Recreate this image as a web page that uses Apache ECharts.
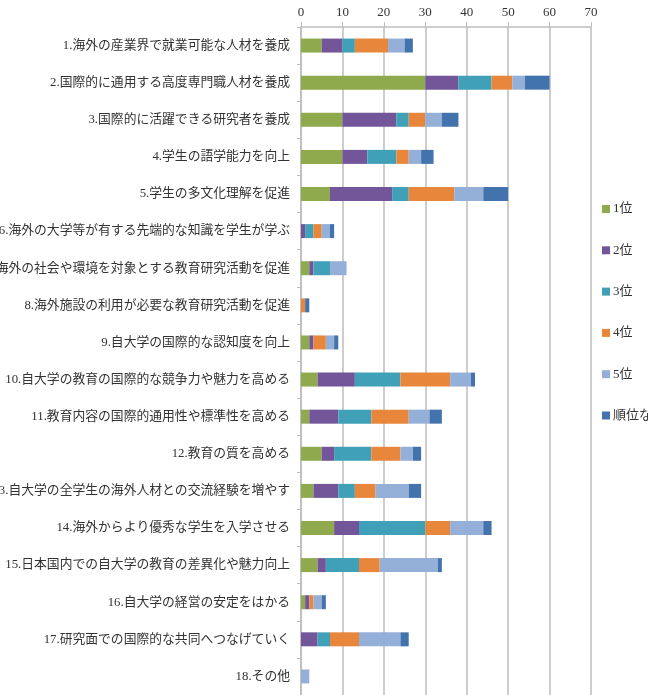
<!DOCTYPE html>
<html>
<head>
<meta charset="utf-8">
<script src="https://cdn.jsdelivr.net/npm/echarts@6/dist/echarts.min.js"></script>
<style>
  html, body { margin: 0; padding: 0; background: #fff; }
  #main { width: 648px; height: 695px; }
</style>
</head>
<body>
<div id="main"></div>
<script>
// 項目（上から順）
var categories = [
  '1.海外の産業界で就業可能な人材を養成',
  '2.国際的に通用する高度専門職人材を養成',
  '3.国際的に活躍できる研究者を養成',
  '4.学生の語学能力を向上',
  '5.学生の多文化理解を促進',
  '6.海外の大学等が有する先端的な知識を学生が学ぶ',
  '7.海外の社会や環境を対象とする教育研究活動を促進',
  '8.海外施設の利用が必要な教育研究活動を促進',
  '9.自大学の国際的な認知度を向上',
  '10.自大学の教育の国際的な競争力や魅力を高める',
  '11.教育内容の国際的通用性や標準性を高める',
  '12.教育の質を高める',
  '13.自大学の全学生の海外人材との交流経験を増やす',
  '14.海外からより優秀な学生を入学させる',
  '15.日本国内での自大学の教育の差異化や魅力向上',
  '16.自大学の経営の安定をはかる',
  '17.研究面での国際的な共同へつなげていく',
  '18.その他'
];
var seriesNames = ['1位', '2位', '3位', '4位', '5位', '順位なし'];
var rank1 = [5, 30, 10, 10, 7, 0, 2, 0, 2, 4, 2, 5, 3, 8, 4, 1, 0, 0];
var rank2 = [5, 8, 13, 6, 15, 1, 1, 0, 1, 9, 7, 3, 6, 6, 2, 1, 4, 0];
var rank3 = [3, 8, 3, 7, 4, 2, 4, 0, 0, 11, 8, 9, 4, 16, 8, 0, 3, 0];
var rank4 = [8, 5, 4, 3, 11, 2, 0, 1, 3, 12, 9, 7, 5, 6, 5, 1, 7, 0];
var rank5 = [4, 3, 4, 3, 7, 2, 4, 0, 2, 5, 5, 3, 8, 8, 14, 2, 10, 2];
var noRank = [2, 6, 4, 3, 6, 1, 0, 1, 1, 1, 3, 2, 3, 2, 1, 1, 2, 0];
var xTicks = [0, 10, 20, 30, 40, 50, 60, 70];

var colors = ['#8EAA4C', '#73559A', '#3FA0B8', '#E8873C', '#95B0D8', '#4373AC'];
var values = [rank1, rank2, rank3, rank4, rank5, noRank];
var fontFamily = '"Liberation Serif", "DejaVu Serif", "Noto Sans CJK JP", serif';

var chart = echarts.init(document.getElementById('main'));

var series = seriesNames.map(function (name, i) {
  return {
    name: name,
    type: 'bar',
    stack: 'total',
    barWidth: 14,
    itemStyle: { color: colors[i] },
    data: values[i]
  };
});

chart.setOption({
  animation: false,
  textStyle: { fontFamily: fontFamily },
  grid: { left: 301, right: 57, top: 27, bottom: 0, containLabel: false, outerBoundsMode: 'none' },
  legend: {
    orient: 'vertical',
    left: 597,
    top: 197,
    itemWidth: 8,
    itemHeight: 8,
    itemGap: 27.3,
    icon: 'rect',
    textStyle: { fontSize: 13, lineHeight: 14, color: '#333', fontFamily: fontFamily, padding: [0, 0, 0, -2] },
    data: seriesNames
  },
  xAxis: {
    type: 'value',
    position: 'top',
    min: xTicks[0],
    max: xTicks[xTicks.length - 1],
    interval: 10,
    axisLine: { show: true, lineStyle: { color: '#BDBDBD', width: 1.5 } },
    axisTick: { show: true, length: 5, lineStyle: { color: '#BDBDBD' } },
    axisLabel: { color: '#333', fontSize: 13, margin: 8, fontFamily: fontFamily },
    splitLine: { show: true, lineStyle: { color: '#BDBDBD', width: 1.5 } }
  },
  yAxis: {
    type: 'category',
    inverse: true,
    data: categories,
    axisLine: { show: true, lineStyle: { color: '#BDBDBD', width: 1.5 } },
    axisTick: { show: true, length: 4, lineStyle: { color: '#BDBDBD' } },
    axisLabel: { color: '#333', fontSize: 12.8, margin: 11, fontFamily: fontFamily }
  },
  series: series
});
</script>
</body>
</html>
